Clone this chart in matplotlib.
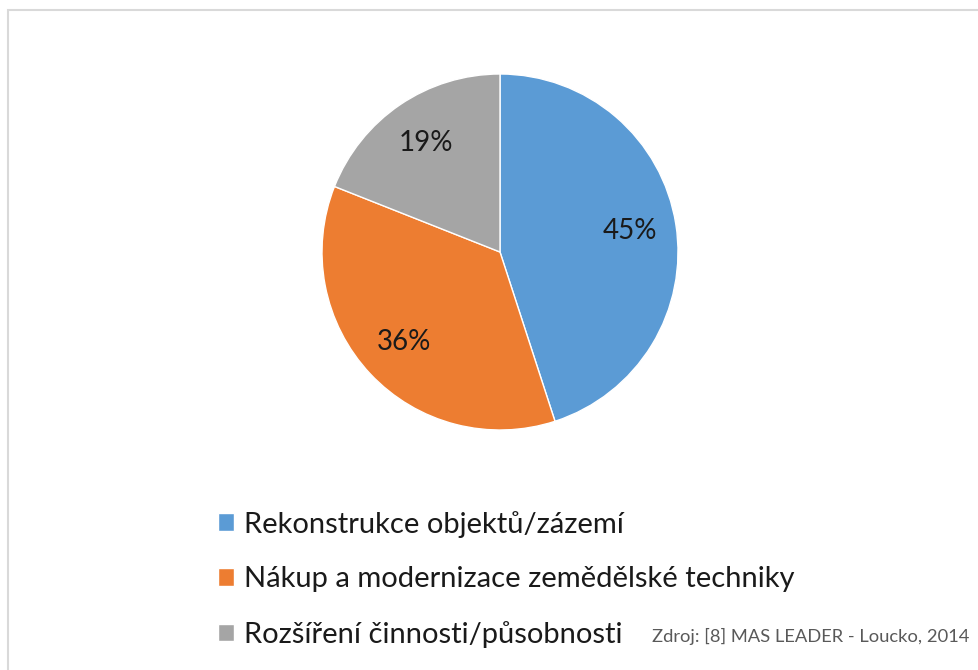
import matplotlib.pyplot as plt
from matplotlib.patches import Rectangle

plt.rcParams['font.family'] = ['Lato', 'DejaVu Sans']

labels = ["Rekonstrukce objektů/zázemí",
          "Nákup a modernizace zemědělské techniky",
          "Rozšíření činnosti/působnosti"]
values = [45, 36, 19]
colors = ["#5B9BD5", "#ED7D31", "#A5A5A5"]
source = "Zdroj: [8] MAS LEADER - Loucko, 2014"

W, H = 979, 670
fig = plt.figure(figsize=(W / 100, H / 100), dpi=100)

# light frame around the chart area (runs off right/bottom edge)
fig.patches.append(Rectangle((8 / W, -0.1), 1.2, 1 - 10 / H + 0.1,
                             transform=fig.transFigure, fill=False,
                             edgecolor="#D9D9D9", linewidth=1.5))

ax = fig.add_axes([322 / W, 240 / H, 356 / W, 356 / H])
wedges, texts, autotexts = ax.pie(values, colors=colors, startangle=90,
                                  counterclock=False, autopct="%d%%",
                                  pctdistance=0.74,
                                  wedgeprops=dict(edgecolor="white", linewidth=1),
                                  textprops=dict(fontsize=20, color="#1a1a1a"))
ax.set_xlim(-1, 1)
ax.set_ylim(-1, 1)
ax.set_aspect("equal")

leg = fig.legend(wedges, labels, loc="upper left",
                 bbox_to_anchor=(203 / W, 1 - 496 / H),
                 frameon=False, fontsize=21, handlelength=0.55,
                 handleheight=0.55, handletextpad=0.35, labelspacing=0.98,
                 borderpad=0)
for t in leg.get_texts():
    t.set_color("#1a1a1a")

fig.text(652 / W, 1 - 636 / H, source, fontsize=13.2, color="#595959",
         va="center", ha="left")

fig.savefig("out.png", dpi=100, facecolor="white")
